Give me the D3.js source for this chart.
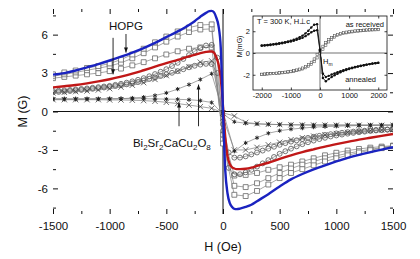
<!DOCTYPE html>
<html><head><meta charset="utf-8">
<script src="https://cdn.jsdelivr.net/npm/d3@7"></script>
<style>
body{margin:0;background:#fff}
svg{display:block}
text{font-family:"Liberation Sans",Arial,sans-serif;fill:#111}
</style></head>
<body><svg id="c" width="420" height="259"></svg>
<script>
// ---------------- DATA ----------------
const xTicks = [-1500,-1000,-500,0,500,1000,1500];
const xMinor = [-1250,-750,-250,250,750,1250];
const yTicks = [-6,-3,0,3,6];
const yMinor = [-7.5,-4.5,-1.5,1.5,4.5,7.5];

const H100 = [-1500,-1400,-1300,-1200,-1100,-1000,-900,-800,-700,-600,-500,-400,-300,-200,-100,0,100,200,300,400,500,600,700,800,900,1000,1100,1200,1300,1400,1500];
const H50 = [-1500,-1450,-1400,-1350,-1300,-1250,-1200,-1150,-1100,-1050,-1000,-950,-900,-850,-800,-750,-700,-650,-600,-550,-500,-450,-400,-350,-300,-250,-200,-150,-100,-50,0,50,100,150,200,250,300,350,400,450,500,550,600,650,700,750,800,850,900,950,1000,1050,1100,1150,1200,1250,1300,1350,1400,1450,1500];
const fitH = [-1500,-1400,-1300,-1200,-1100,-1000,-900,-800,-700,-600,-500,-400,-300,-250,-200,-150,-120,-100,-80,-60,-40,-20,0,20,40,60,80,100,120,150,200,250,300,400,500,600,700,800,900,1000,1100,1200,1300,1400,1500];

// HOPG (squares)
const sqA  = [2.9,3.05,3.2,3.4,3.55,3.75,4.05,4.45,4.9,5.4,5.85,6.25,6.55,6.75,6.8,-2.5,-6.5,-6.6,-6.2,-5.7,-5.2,-4.8,-4.5,-4.2,-3.9,-3.65,-3.42,-3.2,-3.02,-2.86,-2.7];
const sqA2 = [2.75,2.9,3.05,3.22,3.38,3.55,3.8,4.15,4.55,5.0,5.45,5.85,6.2,6.4,6.45,-2.2,-5.8,-5.9,-5.6,-5.2,-4.8,-4.45,-4.15,-3.9,-3.65,-3.45,-3.27,-3.1,-2.95,-2.82,-2.7];
const sqB  = [2.6,2.7,2.8,2.9,3.0,3.15,3.35,3.6,3.85,4.15,4.45,4.7,4.9,5.0,5.0,-1.8,-5.0,-4.95,-4.8,-4.55,-4.35,-4.15,-3.9,-3.65,-3.42,-3.22,-3.05,-2.92,-2.82,-2.74,-2.66];
// Bi2Sr2CaCu2O8 (circles)
const cA = [1.6,1.62,1.65,1.68,1.72,1.76,1.8,1.85,1.9,1.95,2.0,2.08,2.16,2.25,2.35,2.47,2.6,2.75,2.92,3.1,3.3,3.55,3.8,4.1,4.4,4.7,4.95,5.15,5.2,4.2,-1.5,-4.4,-4.9,-4.9,-4.75,-4.55,-4.3,-4.05,-3.8,-3.55,-3.3,-3.1,-2.9,-2.72,-2.55,-2.4,-2.27,-2.15,-2.05,-1.95,-1.87,-1.8,-1.73,-1.67,-1.62,-1.57,-1.52,-1.48,-1.45,-1.42,-1.4];
const cB = [1.5,1.53,1.56,1.6,1.64,1.68,1.72,1.77,1.82,1.87,1.93,1.99,2.05,2.12,2.2,2.3,2.42,2.55,2.65,2.77,2.9,3.02,3.15,3.3,3.45,3.57,3.66,3.72,3.7,3.0,-1.0,-3.2,-3.6,-3.6,-3.5,-3.35,-3.2,-3.05,-2.9,-2.75,-2.6,-2.47,-2.35,-2.25,-2.15,-2.06,-1.98,-1.9,-1.83,-1.77,-1.71,-1.66,-1.61,-1.57,-1.53,-1.5,-1.47,-1.44,-1.42,-1.4,-1.38];
// crosses
const xA = [1.45,1.5,1.55,1.6,1.68,1.78,1.9,2.05,2.25,2.5,2.8,3.15,3.5,3.85,3.95,-0.5,-3.0,-3.0,-2.8,-2.6,-2.4,-2.2,-2.05,-1.92,-1.82,-1.72,-1.63,-1.55,-1.5,-1.45,-1.4];
const xB = [0.92,0.92,0.92,0.92,0.92,0.9,0.9,0.88,0.85,0.8,0.72,0.62,0.5,0.38,0.25,-0.1,-0.35,-0.85,-0.95,-1.0,-1.02,-1.04,-1.05,-1.06,-1.06,-1.07,-1.07,-1.07,-1.08,-1.08,-1.08];
// asterisks
const aA = [0.95,0.95,0.95,0.96,0.97,0.98,1.0,1.05,1.12,1.25,1.45,1.75,2.1,2.5,2.95,0.0,-3.1,-2.45,-2.05,-1.7,-1.5,-1.38,-1.3,-1.22,-1.18,-1.15,-1.12,-1.1,-1.08,-1.06,-1.05];
const aB = [1.0,1.0,1.0,1.0,1.0,1.0,1.0,1.0,1.0,0.98,0.97,0.95,0.92,0.85,0.7,-0.2,-0.8,-0.92,-0.97,-1.0,-1.02,-1.03,-1.04,-1.05,-1.05,-1.05,-1.05,-1.05,-1.05,-1.05,-1.05];
// fits
const blueM = [2.88,3.0,3.2,3.45,3.7,3.98,4.28,4.6,4.95,5.35,5.8,6.25,6.75,7.05,7.4,7.7,7.83,7.85,7.75,7.35,6.7,5.0,0.0,-4.6,-6.4,-7.15,-7.45,-7.6,-7.62,-7.58,-7.45,-7.28,-7.0,-6.45,-5.85,-5.3,-4.88,-4.52,-4.2,-3.9,-3.62,-3.38,-3.17,-2.97,-2.78];
const redM = [1.88,1.97,2.07,2.2,2.35,2.52,2.72,2.95,3.22,3.5,3.78,4.03,4.3,4.42,4.55,4.65,4.68,4.68,4.6,4.25,3.7,2.6,0.4,-2.0,-3.5,-4.1,-4.35,-4.45,-4.5,-4.5,-4.47,-4.38,-4.25,-4.0,-3.7,-3.42,-3.17,-2.95,-2.74,-2.55,-2.37,-2.2,-2.05,-1.9,-1.75];

// inset
const inH = [-2000,-1900,-1800,-1700,-1600,-1500,-1400,-1300,-1200,-1100,-1000,-900,-800,-700,-600,-500,-400,-300,-200,-100,0,100,200,300,400,500,600,700,800,900,1000,1100,1200,1300,1400,1500,1600,1700,1800,1900,2000];
const annA = [0.7,0.72,0.75,0.78,0.82,0.86,0.9,0.95,1.0,1.06,1.13,1.22,1.32,1.45,1.6,1.8,2.05,2.35,2.6,2.65,0.3,-2.3,-2.6,-2.4,-2.2,-2.05,-1.9,-1.78,-1.66,-1.56,-1.47,-1.39,-1.32,-1.25,-1.19,-1.13,-1.07,-1.02,-0.97,-0.93,-0.9];
const annB = [0.66,0.68,0.71,0.74,0.77,0.81,0.85,0.9,0.95,1.0,1.06,1.13,1.21,1.3,1.4,1.55,1.72,1.9,2.05,2.1,0.2,-1.9,-2.2,-2.1,-1.98,-1.87,-1.77,-1.67,-1.58,-1.5,-1.42,-1.35,-1.29,-1.23,-1.17,-1.12,-1.07,-1.02,-0.98,-0.94,-0.91];
const recA = [-1.95,-1.93,-1.91,-1.89,-1.87,-1.85,-1.82,-1.79,-1.76,-1.72,-1.68,-1.63,-1.56,-1.48,-1.38,-1.25,-1.08,-0.85,-0.55,-0.15,0.25,0.62,0.95,1.22,1.42,1.58,1.7,1.79,1.86,1.92,1.96,2.0,2.03,2.06,2.08,2.1,2.12,2.13,2.14,2.15,2.16];
const recB = [-1.96,-1.95,-1.93,-1.91,-1.89,-1.87,-1.85,-1.82,-1.79,-1.76,-1.72,-1.68,-1.62,-1.55,-1.47,-1.36,-1.22,-1.05,-0.8,-0.45,-0.05,0.35,0.72,1.02,1.27,1.46,1.6,1.71,1.79,1.85,1.9,1.94,1.98,2.01,2.04,2.07,2.09,2.11,2.12,2.13,2.14];
const inXTicks = [-2000,-1000,0,1000,2000];
const inYTicks = [-2,0,2];

// ---------------- CHART ----------------
const svg = d3.select('#c');
const L=53,R=393,T=9,B=214;
const x = d3.scaleLinear().domain([-1500,1500]).range([L,R]);
const y = d3.scaleLinear().domain([-8,8]).range([B,T]);
const fmt = d => String(d);

svg.append('defs').append('clipPath').attr('id','clip')
  .append('rect').attr('x',L).attr('y',T).attr('width',R-L).attr('height',B-T);

function styleAxis(g){ g.select('.domain').remove(); g.selectAll('line').attr('stroke','#111').attr('stroke-width',1);
  g.selectAll('text').attr('font-size',11.5).attr('font-family','"Liberation Sans",Arial,sans-serif').attr('fill','#111'); }
svg.append('g').attr('transform',`translate(0,${B})`).call(d3.axisBottom(x).tickValues(xTicks).tickSize(-5).tickPadding(8).tickFormat(fmt)).call(styleAxis);
svg.append('g').attr('transform',`translate(0,${B})`).call(d3.axisBottom(x).tickValues(xMinor).tickSize(-3).tickFormat('')).call(styleAxis);
svg.append('g').attr('transform',`translate(0,${T})`).call(d3.axisTop(x).tickValues(xTicks).tickSize(-5).tickFormat('')).call(styleAxis);
svg.append('g').attr('transform',`translate(0,${T})`).call(d3.axisTop(x).tickValues(xMinor).tickSize(-3).tickFormat('')).call(styleAxis);
svg.append('g').attr('transform',`translate(${L},0)`).call(d3.axisLeft(y).tickValues(yTicks).tickSize(-5).tickPadding(5).tickFormat(fmt)).call(styleAxis);
svg.append('g').attr('transform',`translate(${L},0)`).call(d3.axisLeft(y).tickValues(yMinor).tickSize(-3).tickFormat('')).call(styleAxis);
svg.append('g').attr('transform',`translate(${R},0)`).call(d3.axisRight(y).tickValues(yTicks).tickSize(-5).tickFormat('')).call(styleAxis);
svg.append('g').attr('transform',`translate(${R},0)`).call(d3.axisRight(y).tickValues(yMinor).tickSize(-3).tickFormat('')).call(styleAxis);

// zero lines
svg.append('line').attr('x1',L).attr('x2',R).attr('y1',y(0)).attr('y2',y(0)).attr('stroke','#111').attr('stroke-width',1);
svg.append('line').attr('x1',x(0)).attr('x2',x(0)).attr('y1',T).attr('y2',B).attr('stroke','#111').attr('stroke-width',1);

const plot = svg.append('g').attr('clip-path','url(#clip)');
const lin = d3.line().x(d=>x(d[0])).y(d=>y(d[1]));

function series(H,M,type){
  const pts = H.map((h,i)=>[h,M[i]]);
  plot.append('path').attr('d',lin(pts)).attr('fill','none').attr('stroke','#808080').attr('stroke-width',0.7);
  const g = plot.append('g');
  let sym, fill='none', stroke='#555', sw=0.8;
  if(type==='sq'){ sym=d3.symbol(d3.symbolSquare,24); fill='#fff'; stroke='#666'; }
  else if(type==='ci'){ sym=d3.symbol(d3.symbolCircle,19); stroke='#555'; }
  else if(type==='x'){ sym=d3.symbol(d3.symbolTimes,20); stroke='#444'; sw=0.8; }
  else { sym=d3.symbol(d3.symbolAsterisk,12); stroke='#222'; sw=1.0; }
  g.selectAll('path').data(pts).join('path').attr('d',sym)
    .attr('transform',d=>`translate(${x(d[0])},${y(d[1])})`)
    .attr('fill',fill).attr('stroke',stroke).attr('stroke-width',sw);
}
series(H100,sqB,'sq');
series(H100,sqA2,'sq');
series(H100,sqA,'sq');
series(H50,cB,'ci');
series(H50,cA,'ci');
series(H100,xA,'x');
series(H100,xB,'x');
series(H100,aB,'as');
series(H100,aA,'as');

const smooth = d3.line().x(d=>x(d[0])).y(d=>y(d[1])).curve(d3.curveMonotoneX);
plot.append('path').attr('d',smooth(fitH.map((h,i)=>[h,redM[i]]))).attr('fill','none').attr('stroke','#c01818').attr('stroke-width',2.4);
plot.append('path').attr('d',smooth(fitH.map((h,i)=>[h,blueM[i]]))).attr('fill','none').attr('stroke','#1a23c0').attr('stroke-width',2.4);

// axis titles
svg.append('text').attr('x',(L+R)/2).attr('y',251).attr('text-anchor','middle').attr('font-size',12.5).text('H (Oe)');
svg.append('text').attr('transform',`translate(27,${y(0)}) rotate(-90)`).attr('text-anchor','middle').attr('font-size',12.5).text('M (G)');

// annotations
function arrow(h,m1,m2){
  const X=x(h), y1=y(m1), y2=y(m2);
  svg.append('line').attr('x1',X).attr('x2',X).attr('y1',y1).attr('y2',y2).attr('stroke','#111').attr('stroke-width',0.9);
  const dir = y2>y1?1:-1;
  svg.append('path').attr('d',`M${X},${y2} L${X-2},${y2-dir*5} L${X+2},${y2-dir*5} Z`).attr('fill','#111');
}
svg.append('text').attr('x',x(-856)).attr('y',30).attr('text-anchor','middle').attr('font-size',11.5).text('HOPG');
arrow(-970,5.75,2.9);
arrow(-856,6.05,4.6);
arrow(-388,-1.15,0.7);
arrow(-216,-1.15,2.1);
const bi = svg.append('text').attr('x',x(-795)).attr('y',147).attr('font-size',11.5);
[['Bi',0],['2',1],['Sr',0],['2',1],['CaCu',0],['2',1],['O',0],['8',1]].forEach(([t,s])=>{
  bi.append('tspan').text(t).attr('font-size',s?8:11.5).attr('baseline-shift',s?'-3':null);
});

// ---------------- INSET ----------------
const xi = d3.scaleLinear().domain([-2300,2300]).range([253,387]);
const yi = d3.scaleLinear().domain([-3.4,3.4]).range([90,16]);
const ins = svg.append('g');
ins.append('rect').attr('x',253).attr('y',16).attr('width',134).attr('height',74).attr('fill','#fff').attr('stroke','#111').attr('stroke-width',0.8);
function styleIn(g){ g.select('.domain').remove(); g.selectAll('line').attr('stroke','#111').attr('stroke-width',0.8);
  g.selectAll('text').attr('font-size',7.5).attr('font-family','"Liberation Sans",Arial,sans-serif').attr('fill','#222'); }
ins.append('g').attr('transform','translate(0,90)').call(d3.axisBottom(xi).tickValues(inXTicks).tickSize(-2.5).tickPadding(3).tickFormat(fmt)).call(styleIn);
ins.append('g').attr('transform','translate(0,16)').call(d3.axisTop(xi).tickValues(inXTicks).tickSize(-2.5).tickFormat('')).call(styleIn);
ins.append('g').attr('transform','translate(253,0)').call(d3.axisLeft(yi).tickValues(inYTicks).tickSize(-2.5).tickPadding(3).tickFormat(fmt)).call(styleIn);
ins.append('g').attr('transform','translate(387,0)').call(d3.axisRight(yi).tickValues(inYTicks).tickSize(-2.5).tickFormat('')).call(styleIn);
ins.append('line').attr('x1',253).attr('x2',387).attr('y1',yi(0)).attr('y2',yi(0)).attr('stroke','#333').attr('stroke-width',0.7);
ins.append('line').attr('x1',xi(0)).attr('x2',xi(0)).attr('y1',16).attr('y2',90).attr('stroke','#333').attr('stroke-width',0.7);
const li = d3.line().x(d=>xi(d[0])).y(d=>yi(d[1]));
function inSeries(M,kind){
  const pts = inH.map((h,i)=>[h,M[i]]);
  ins.append('path').attr('d',li(pts)).attr('fill','none').attr('stroke', kind==='rec'?'#777':'#111').attr('stroke-width',kind==='rec'?0.6:0.9);
  if(kind==='rec'){
    ins.append('g').selectAll('rect').data(pts).join('rect')
      .attr('x',d=>xi(d[0])-1.1).attr('y',d=>yi(d[1])-1.1).attr('width',2.2).attr('height',2.2)
      .attr('fill','#fff').attr('stroke','#444').attr('stroke-width',0.5);
  } else {
    ins.append('g').selectAll('circle').data(pts).join('circle')
      .attr('cx',d=>xi(d[0])).attr('cy',d=>yi(d[1])).attr('r',1.2).attr('fill','#111');
  }
}
inSeries(recB,'rec'); inSeries(recA,'rec');
inSeries(annB,'ann'); inSeries(annA,'ann');
ins.append('text').attr('x',257).attr('y',24).attr('font-size',7.5).text('T = 300 K, H\u22A5c');
ins.append('text').attr('x',384).attr('y',27).attr('text-anchor','end').attr('font-size',7.5).text('as received');
ins.append('text').attr('x',376).attr('y',82).attr('text-anchor','end').attr('font-size',7.5).text('annealed');
const hm = ins.append('text').attr('x',323).attr('y',64).attr('font-size',7.5).text('H');
hm.append('tspan').attr('font-size',5).attr('baseline-shift','-2').text('m');
ins.append('line').attr('x1',xi(40)).attr('x2',xi(40)).attr('y1',yi(-0.4)).attr('y2',yi(-1.9)).attr('stroke','#111').attr('stroke-width',0.6);
ins.append('text').attr('transform',`translate(242,${yi(0.6)}) rotate(-90)`).attr('text-anchor','middle').attr('font-size',7).text('M(mG)');
</script></body></html>
